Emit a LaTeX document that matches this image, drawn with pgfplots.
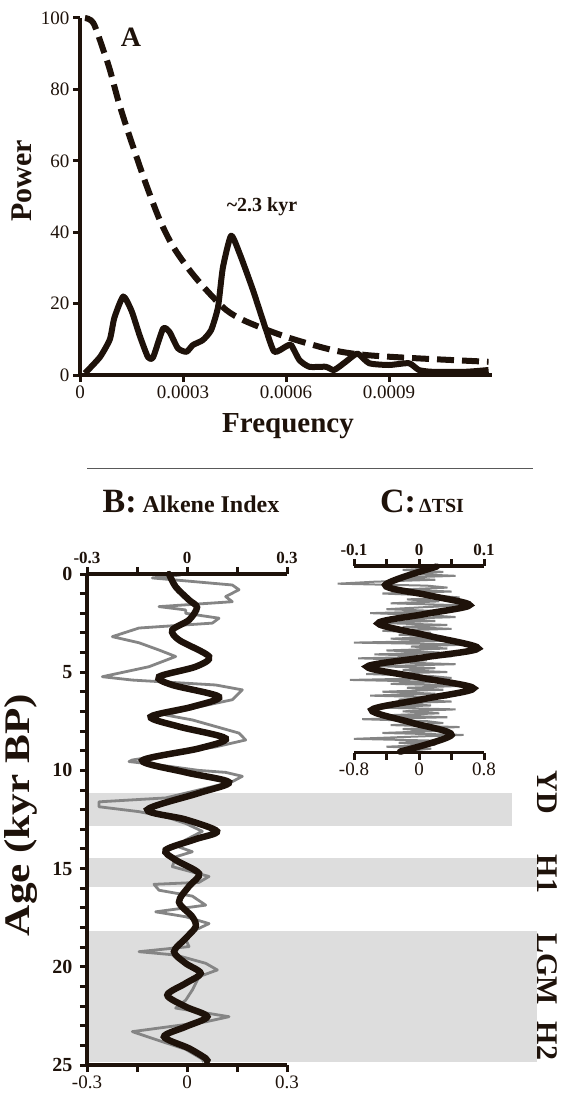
\documentclass[border=0pt]{standalone}
\usepackage{graphicx}
\usepackage{pgfplots}
\pgfplotsset{compat=1.18}
\usepackage{fontspec}
\setmainfont{Liberation Serif}

\definecolor{ink}{HTML}{1E120A}
\definecolor{band}{HTML}{DDDDDD}
\definecolor{raw}{HTML}{858585}
\newcommand{\fs}[1]{\fontsize{#1}{#1}\selectfont}

\pgfplotsset{
  base/.style={scale only axis, clip=false, tick align=outside,
    major tick length=7pt, minor tick length=7pt,
    every major tick/.append style={line width=3pt, color=ink},
    every minor tick/.append style={line width=3pt, color=ink},
    axis line style={line width=3.2pt, color=ink}},
  helper/.style={base, ymin=0, ymax=1, axis y line=none, ytick=\empty},
}

\begin{document}
\begin{tikzpicture}[x=1pt, y=1pt]
\path[use as bounding box] (0pt,0pt) rectangle (564pt,-1099pt);

% ---- panel A: spectrum
\begin{axis}[base, at={(80pt,-375pt)}, anchor=south west, width=412pt, height=357pt,
  xmin=0, xmax=0.0012, ymin=0, ymax=100,
  axis x line*=bottom, axis y line*=left, xtick pos=left, ytick pos=left,
  xtick={0,0.0003,0.0006,0.0009}, xticklabels={0,0.0003,0.0006,0.0009},
  ytick={0,20,40,60,80,100}, yticklabels={0,20,40,60,80,100},
  ticklabel style={font=\fs{19}, text=ink}, scaled x ticks=false]
\addplot[ink, line width=6pt, smooth, tension=0.35, line join=round] coordinates {
  (0.0000145,0.5) (0.000058,5) (0.000087,10) (0.0001,16) (0.000126,22) (0.00015,18)
  (0.000174,11) (0.000198,5) (0.000213,5) (0.000242,13) (0.000261,12) (0.000285,7.5)
  (0.00031,6.5) (0.000329,8.4) (0.000358,9.8) (0.000382,12.6) (0.000402,19) (0.000416,30)
  (0.00044,39) (0.000465,34) (0.000503,24) (0.000542,12.6) (0.000566,6.5) (0.0006,8)
  (0.000615,8.4) (0.000639,4.2) (0.000668,2.3) (0.000716,2.3) (0.00074,1.4) (0.000774,3.7)
  (0.000808,6) (0.000842,3.3) (0.0009,2.8) (0.000958,3.3) (0.000987,1.4) (0.001026,0.9)
  (0.001123,0.9) (0.00119,1.4)};
\addplot[ink, line width=6pt, dash pattern=on 17pt off 8pt, smooth] coordinates {
  (0.0000145,100) (0.000039,98.6) (0.000068,91) (0.000087,85.5) (0.000111,77) (0.000135,69.6)
  (0.000165,61) (0.000194,53) (0.000232,43.5) (0.000271,36) (0.000319,29.4) (0.000368,23.8)
  (0.000426,18.2) (0.000484,15) (0.0006,10.7) (0.000735,7) (0.000832,5.6) (0.000977,4.7)
  (0.00119,3.7)};
\end{axis}

\node[font=\fs{28}\bfseries, text=ink] at (131pt,-37pt) {A};
\node[font=\fs{20}\bfseries, text=ink] at (262pt,-207pt) {\textasciitilde2.3 kyr};
\node[rotate=90, font=\fs{30}\bfseries, text=ink] at (22pt,-181pt) {Power};
\node[font=\fs{29}\bfseries, text=ink] at (288pt,-426pt) {Frequency};
\draw[line width=0.8pt, black!65] (87pt,-468pt) -- (533pt,-468pt);

% ---- panel B: alkene index
\begin{axis}[base, axis on top, at={(87pt,-574pt)}, anchor=north west, width=200pt, height=491pt,
  xmin=-0.3, xmax=0.3, ymin=0, ymax=25, y dir=reverse,
  axis x line=none, xtick=\empty, axis y line*=left, ytick pos=left,
  ytick={0,5,10,15,20,25}, yticklabels={0,5,10,15,20,25},
  minor ytick={1,2,3,4,6,7,8,9,11,12,13,14,16,17,18,19,21,22,23,24},
  yticklabel style={font=\fs{20}\bfseries, text=ink, xshift=-4pt}]
\addplot[fill=band, draw=none] coordinates {(-0.3,11.15) (0.975,11.15) (0.975,12.85) (-0.3,12.85)} -- cycle;
\addplot[fill=band, draw=none] coordinates {(-0.3,14.46) (1.05,14.46) (1.05,15.94) (-0.3,15.94)} -- cycle;
\addplot[fill=band, draw=none] coordinates {(-0.3,18.2) (1.05,18.2) (1.05,24.85) (-0.3,24.85)} -- cycle;
\addplot[raw, line width=2.8pt, line join=round] coordinates {
  (-0.064,0) (-0.02,0.05) (-0.104,0.2) (-0.004,0.35) (0.136,0.56) (0.156,0.8) (0.116,1.15)
  (0.136,1.41) (-0.084,1.66) (-0.004,1.83) (-0.004,2.0) (0.096,2.25) (0.076,2.5) (-0.144,2.75)
  (-0.224,3.19) (-0.144,3.5) (-0.084,3.87) (-0.034,4.2) (-0.114,4.72) (-0.254,5.23) (-0.164,5.4)
  (0.086,5.65) (0.166,5.9) (0.136,6.4) (0.036,6.76) (-0.064,7.18) (0.016,7.43) (0.156,8.1)
  (0.176,8.45) (0.086,8.8) (-0.064,9.2) (-0.164,9.47) (-0.174,9.55) (-0.094,9.7) (0.036,10.0)
  (0.116,10.1) (0.166,10.3) (0.136,10.57) (0.076,10.83) (-0.064,11.4) (-0.264,11.6) (-0.264,11.85)
  (-0.144,12.1) (-0.064,12.36) (-0.004,12.7) (0.046,13.1) (-0.004,13.54) (-0.024,13.9) (0.016,14.14)
  (-0.034,14.4) (-0.044,14.9) (0.066,15.4) (0.036,15.7) (-0.099,15.8) (-0.084,16.1) (0.016,16.4)
  (0.056,16.86) (-0.094,17.2) (-0.004,17.45) (0.066,17.8) (0.016,18.2) (-0.004,18.6) (0.006,18.97)
  (-0.144,19.23) (-0.034,19.4) (0.056,19.82) (0.091,20.16) (0.036,20.5) (0.016,21.18) (-0.004,21.7)
  (-0.034,22.1) (0.126,22.54) (0.056,22.8) (-0.164,23.3) (-0.094,23.7) (-0.004,24.2) (0.046,24.7)
  (0.05,24.85)};
\addplot[ink, line width=6.5pt, smooth, line cap=round] coordinates {
  (-0.054,0) (-0.034,0.65) (0.006,1.32) (0.03,1.7) (0.006,2.34) (-0.044,2.85) (-0.024,3.36)
  (0.066,4.2) (0.026,4.72) (-0.084,5.23) (-0.044,5.65) (0.096,6.25) (0.016,6.76) (-0.109,7.27)
  (-0.024,7.77) (0.116,8.37) (0.036,8.88) (-0.134,9.5) (-0.004,10.1) (0.126,10.6) (0.036,11.15)
  (-0.119,12.0) (-0.004,12.5) (0.09,13.1) (0.026,13.5) (-0.064,14.05) (-0.034,14.56) (0.036,15.25)
  (0.006,15.9) (-0.024,16.7) (0.016,17.45) (0.026,17.96) (-0.004,18.55) (-0.039,19.23) (-0.004,19.82)
  (0.041,20.33) (-0.004,20.84) (-0.059,21.44) (-0.004,22.03) (0.061,22.54) (-0.004,23.05)
  (-0.069,23.56) (0.006,24.15) (0.056,24.66) (0.06,24.8)};
\end{axis}

\begin{axis}[helper, at={(87pt,-574pt)}, anchor=north west, width=200pt, height=491pt,
  xmin=-0.3, xmax=0.3, axis x line*=top, xtick pos=right, xticklabel pos=right,
  xtick={-0.3,0,0.3}, xticklabels={-0.3,0,0.3}, minor xtick={-0.15,0.15},
  xticklabel style={font=\fs{17}\bfseries, text=ink}]
\end{axis}
\begin{axis}[helper, at={(87pt,-574pt)}, anchor=north west, width=200pt, height=491pt,
  xmin=-0.3, xmax=0.3, axis x line*=bottom, xtick pos=left, xticklabel pos=left,
  xtick={-0.3,0,0.3}, xticklabels={-0.3,0,0.3}, minor xtick={-0.15,0.15},
  xticklabel style={font=\fs{19}, text=ink}]
\end{axis}

% ---- panel C: TSI
\begin{axis}[base, hide axis, at={(354pt,-566pt)}, anchor=north west, width=130pt, height=186.6pt,
  xmin=-0.8, xmax=0.8, ymin=0, ymax=9.5, y dir=reverse]
\addplot[raw, line width=2pt] coordinates {
  (0.25,0.1) (-0.20,0.2) (0.30,0.3) (-0.10,0.4) (0.45,0.5) (-0.30,0.6) (0.20,0.7) (-0.55,0.8)
  (-1.00,0.9) (0.10,1.0) (0.35,1.1) (-0.25,1.2) (0.40,1.3) (-0.45,1.4) (0.15,1.5) (0.50,1.6)
  (-0.15,1.7) (0.25,1.8) (-0.35,1.9) (0.55,2.0) (0.05,2.1) (-0.40,2.2) (0.30,2.3) (-0.60,2.4)
  (0.10,2.5) (0.45,2.6) (-0.30,2.7) (0.20,2.8) (-0.50,2.9) (0.35,3.0) (-0.20,3.1) (0.40,3.2)
  (-0.45,3.3) (0.15,3.4) (-0.25,3.5) (0.30,3.6) (-0.35,3.7) (0.45,3.8) (-0.80,3.9) (0.60,4.0)
  (-0.10,4.1) (0.35,4.2) (-0.40,4.3) (0.25,4.4) (-0.55,4.5) (0.40,4.6) (-0.75,4.7) (0.10,4.8)
  (-0.30,4.9) (0.45,5.0) (-0.50,5.1) (0.20,5.2) (-0.20,5.3) (0.35,5.4) (-0.65,5.5) (0.15,5.6)
  (0.40,5.7) (-0.85,5.8) (0.25,5.9) (-0.35,6.0) (0.55,6.1) (-0.15,6.2) (0.30,6.3) (-0.45,6.4)
  (0.20,6.5) (-0.60,6.6) (0.35,6.7) (-0.25,6.8) (0.40,6.9) (-0.30,7.0) (0.15,7.1) (-0.55,7.2)
  (0.45,7.3) (-0.20,7.4) (0.25,7.5) (-0.40,7.6) (0.35,7.7) (-0.70,7.8) (0.10,7.9) (0.30,8.0)
  (-0.35,8.1) (0.50,8.2) (-0.20,8.3) (0.25,8.4) (-0.45,8.5) (0.55,8.6) (-0.15,8.7) (-0.80,8.8)
  (0.30,8.9) (-0.25,9.0) (0.20,9.1) (-0.40,9.2) (0.15,9.3) (-0.10,9.4)};
\end{axis}
\begin{axis}[base, hide axis, at={(354pt,-566pt)}, anchor=north west, width=130pt, height=186.6pt,
  xmin=-0.1, xmax=0.1, ymin=0, ymax=9.5, y dir=reverse]
\addplot[ink, line width=6.5pt, smooth, line cap=round] coordinates {
  (0.027,0.03) (-0.052,0.97) (0.013,1.48) (0.078,1.99) (0.008,2.45) (-0.063,2.92) (0.014,3.55)
  (0.091,4.19) (0.006,4.66) (-0.080,5.13) (0.002,5.68) (0.084,6.23) (0.006,6.78) (-0.073,7.33)
  (-0.012,7.97) (0.050,8.6) (-0.029,9.45)};
\end{axis}
\begin{axis}[helper, at={(354pt,-566pt)}, anchor=north west, width=130pt, height=186.6pt,
  xmin=-0.1, xmax=0.1, axis x line*=top, xtick pos=right, xticklabel pos=right,
  xtick={-0.1,0,0.1}, xticklabels={-0.1,0,0.1}, minor xtick={-0.05,0.05},
  xticklabel style={font=\fs{17}\bfseries, text=ink}]
\end{axis}
\begin{axis}[helper, at={(354pt,-566pt)}, anchor=north west, width=130pt, height=186.6pt,
  xmin=-0.8, xmax=0.8, axis x line*=bottom, xtick pos=left, xticklabel pos=left,
  xtick={-0.8,0,0.8}, xticklabels={-0.8,0,0.8}, minor xtick={-0.4,0.4},
  xticklabel style={font=\fs{19}, text=ink}]
\end{axis}

% ---- titles and labels
\node[anchor=base, text=ink] at (191pt,-512pt) {\bfseries{\fs{34}B:}\fs{24} Alkene Index};
\node[anchor=base, text=ink] at (422pt,-512pt) {\bfseries{\fs{34}C:}\fs{20}\,ΔTSI};
\node[rotate=90, text=ink] at (21pt,-815pt) {\scalebox{1.2}[1]{\fs{36}\bfseries Age (kyr BP)}};
\node[rotate=-90, font=\fs{30}\bfseries, text=ink] at (547pt,-792pt) {YD};
\node[rotate=-90, font=\fs{30}\bfseries, text=ink] at (547pt,-874pt) {H1};
\node[rotate=-90, font=\fs{30}\bfseries, text=ink] at (547pt,-969pt) {LGM};
\node[rotate=-90, font=\fs{30}\bfseries, text=ink] at (547pt,-1041pt) {H2};
\end{tikzpicture}
\end{document}
